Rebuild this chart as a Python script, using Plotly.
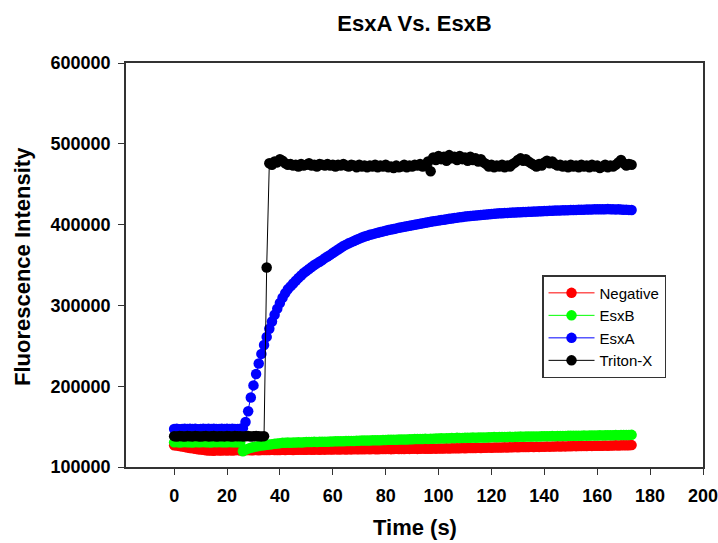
import plotly.graph_objects as go

# time in seconds (1 s sampling)
time_s = list(range(0, 174))

# fluorescence values in thousands
negative_k = [
    127.0, 126.6, 126.0, 125.4, 124.9, 124.2, 123.6, 123.1, 122.5, 122.0,
    121.6, 121.2, 120.6, 120.3, 120.5, 120.2, 120.6, 120.4, 120.3, 120.7,
    120.5, 120.8, 120.4, 120.6, 120.9, 120.5, 120.7, 120.6, 120.9, 120.6,
    120.8, 121.0, 120.7, 120.9, 121.1, 120.9, 121.0, 121.2, 120.9, 121.1,
    121.1, 121.3, 121.0, 121.2, 121.4, 121.1, 121.3, 121.2, 121.5, 121.3,
    121.4, 121.6, 121.3, 121.5, 121.7, 121.4, 121.6, 121.5, 121.8, 121.6,
    121.7, 121.9, 121.6, 121.8, 122.0, 121.7, 121.9, 121.8, 122.1, 121.9,
    122.0, 122.1, 121.9, 122.2, 122.0, 122.3, 122.1, 122.0, 122.3, 122.2,
    122.2, 122.4, 122.1, 122.3, 122.5, 122.2, 122.4, 122.3, 122.6, 122.4,
    122.5, 122.7, 122.4, 122.6, 122.8, 122.5, 122.7, 122.6, 122.9, 122.7,
    122.8, 123.0, 122.8, 123.1, 123.0, 123.2, 123.1, 123.3, 123.2, 123.4,
    123.3, 123.5, 123.4, 123.6, 123.5, 123.8, 123.6, 123.9, 123.7, 124.0,
    123.9, 124.1, 124.0, 124.2, 124.1, 124.4, 124.2, 124.5, 124.3, 124.6,
    124.5, 124.7, 124.6, 124.8, 124.7, 125.0, 124.8, 125.1, 124.9, 125.2,
    125.1, 125.3, 125.2, 125.4, 125.3, 125.6, 125.4, 125.7, 125.5, 125.8,
    125.7, 125.9, 125.8, 126.0, 125.9, 126.1, 126.0, 126.2, 126.1, 126.3,
    126.2, 126.4, 126.3, 126.5, 126.4, 126.6, 126.5, 126.8, 126.6, 126.9,
    126.8, 127.0, 126.9, 127.1,
]

esxb_k = [
    130.5, 130.8, 130.4, 130.6, 130.9, 130.5, 130.7, 130.4, 130.8, 130.6,
    130.5, 130.9, 130.6, 130.7, 130.4, 130.8, 130.6, 130.9, 130.5, 130.7,
    130.6, 130.8, 130.5, 130.7, 130.6, 130.4,
    119.5, 121.3, 122.7, 123.8, 124.7, 125.4, 126.0, 126.5, 127.0, 127.4,
    127.9, 128.3, 128.7, 129.1, 129.5, 129.9,
    130.0, 130.2, 130.1, 130.4, 130.3, 130.5, 130.4, 130.7,
    130.8, 131.0, 130.9, 131.1, 131.0, 131.3, 131.2, 131.4, 131.3, 131.6,
    131.7, 131.9, 131.8, 132.0, 131.9, 132.2, 132.1, 132.3, 132.2, 132.5,
    132.6, 132.8, 132.7, 132.9, 132.8, 133.1, 133.0, 133.2, 133.1, 133.4,
    133.5, 133.7, 133.6, 133.8, 133.7, 134.0, 133.9, 134.1, 134.0, 134.3,
    134.4, 134.6, 134.5, 134.7, 134.6, 134.9, 134.8, 135.0, 134.9, 135.2,
    135.3, 135.5, 135.4, 135.6, 135.5, 135.8, 135.7, 136.2, 135.8, 136.0,
    136.1, 136.3, 136.2, 136.4, 136.3, 136.5, 136.4, 136.6, 136.5, 136.7,
    136.8, 137.0, 136.9, 137.1, 137.0, 137.2, 137.1, 137.3, 137.2, 137.4,
    137.5, 137.6, 137.5, 137.7, 137.6, 137.8, 137.7, 137.9, 137.8, 138.0,
    138.0, 138.2, 138.1, 138.3, 138.2, 138.4, 138.3, 138.5, 138.4, 138.6,
    138.6, 138.7, 138.6, 138.8, 138.7, 138.9, 138.8, 139.0, 138.9, 139.1,
    139.0, 139.2, 139.1, 139.3, 139.2, 139.4, 139.3, 139.5, 139.4, 139.6,
    139.5, 139.7, 139.6, 139.8,
]

esxa_k = [
    147.0, 147.3, 146.8, 147.1, 147.4, 146.9, 147.2, 147.0, 147.3, 146.8,
    147.1, 147.4, 146.9, 147.2, 147.0, 147.3, 146.9, 147.1, 147.4, 147.0,
    147.2, 146.9, 147.3, 147.1, 147.0, 147.4,
    148.0, 155.7, 169.0, 186.0, 201.0, 215.0, 228.0, 240.0, 251.0, 261.0,
    271.0, 280.0, 288.5, 296.0, 303.0, 309.5, 315.0, 320.0, 323.5, 327.0,
    330.5, 334.0, 337.0, 340.0, 342.5, 345.0, 347.5, 350.0, 352.0, 354.0,
    356.0, 358.5, 360.5, 362.5, 364.8, 367.0, 369.2, 371.3, 373.5, 375.2,
    376.8, 378.3, 379.8, 381.2, 382.6, 384.0, 385.2, 386.3, 387.3, 388.2,
    389.1, 390.0, 390.8, 391.6, 392.4, 393.2, 393.9, 394.6, 395.3, 396.0,
    396.6, 397.3, 397.9, 398.6, 399.2, 399.8, 400.5, 401.1, 401.7, 402.3,
    402.9, 403.5, 404.1, 404.6, 405.1, 405.6, 406.1, 406.6, 407.1, 407.6,
    408.1, 408.6, 409.1, 409.5, 409.9, 410.3, 410.6, 411.0, 411.3, 411.6,
    411.9, 412.2, 412.5, 412.8, 413.1, 413.4, 413.7, 413.9, 414.1, 414.3,
    414.5, 414.7, 414.9, 415.0, 415.2, 415.3, 415.5, 415.6, 415.8, 415.9,
    416.1, 416.2, 416.4, 416.5, 416.7, 416.8, 417.0, 417.1, 417.3, 417.4,
    417.6, 417.7, 417.8, 417.9, 418.0, 418.1, 418.2, 418.3, 418.4, 418.5,
    418.6, 418.7, 418.8, 418.9, 419.0, 419.0, 419.1, 419.0, 419.2, 419.1,
    419.0, 418.8, 418.9, 418.6, 418.4, 418.5, 418.2, 418.0, 418.1,
]

tritonx_k = [
    138.2, 137.8, 138.4, 138.0, 137.7, 138.3, 138.1, 137.9, 138.5, 138.0,
    137.8, 138.2, 138.4, 137.9, 138.1, 138.3, 137.7, 138.0, 138.2, 137.9,
    138.4, 138.1, 137.8, 138.3, 138.0, 138.2, 137.9, 138.1, 138.4, 137.8,
    138.0, 138.3, 138.1, 137.9, 138.2,
    347.0,
    476, 474, 478, 477, 481, 479, 476, 474, 475, 473,
    474, 472, 475, 473, 474, 476, 473, 474, 472, 475,
    474, 473, 475, 473, 474, 472, 474, 473, 475, 473,
    472, 474, 473, 471, 474, 472, 473, 471, 473, 472,
    474, 471, 473, 472, 474, 471, 472, 470, 473, 471,
    472, 474, 471, 473, 472, 474, 473, 475, 472, 474,
    478, 466, 483, 480, 485, 481, 484, 479, 486, 482,
    484, 480, 485, 481, 483, 479, 484, 480, 482, 478,
    481, 477, 475, 472, 474, 471, 473, 472, 474, 471,
    473, 472, 475, 477, 480, 482, 479, 481, 478, 476,
    474, 472, 475, 473, 477, 479, 476, 478, 475, 473,
    474, 472, 473, 471, 474, 472, 473, 471, 474, 472,
    473, 471, 474, 472, 473, 470, 472, 474, 471, 473,
    472, 474, 477, 480, 476, 473, 475, 474,
]

series_names = ["Negative", "EsxB", "EsxA", "Triton-X"]
series_colors = ["#FF0000", "#00FF00", "#0000FF", "#000000"]
series_values = [negative_k, esxb_k, esxa_k, tritonx_k]

x_ticks = [0, 20, 40, 60, 80, 100, 120, 140, 160, 180, 200]
y_ticks = [100000, 200000, 300000, 400000, 500000, 600000]

FONT = "Liberation Sans, Arial, Helvetica, sans-serif"

fig = go.Figure()
for name, color, vals in zip(series_names, series_colors, series_values):
    fig.add_trace(go.Scatter(
        x=time_s[:len(vals)],
        y=[v * 1000 for v in vals],
        mode="lines+markers",
        name=name,
        line=dict(color=color, width=1),
        marker=dict(color=color, size=10.5, line=dict(width=0)),
    ))

axis_common = dict(
    showline=True, linecolor="#333333", linewidth=1.5, mirror=True,
    ticks="outside", ticklen=6, tickwidth=1.2, tickcolor="#333333",
    showgrid=False, zeroline=False, automargin=False,
    ticklabeloverflow="allow",
    tickfont=dict(family=FONT, size=18, color="#000000", weight="bold"),
)

fig.update_layout(
    width=718, height=543,
    margin=dict(l=126, r=15, t=63, b=76, autoexpand=False),
    paper_bgcolor="white", plot_bgcolor="white",
    title=dict(text="<b>EsxA Vs. EsxB</b>", x=0.5, xref="paper",
               y=1 - 23 / 543, yref="container", yanchor="middle",
               font=dict(family=FONT, size=22, color="#000000")),
    xaxis=dict(range=[-18.2, 200], tickvals=x_ticks, ticklabelstandoff=6, **axis_common),
    yaxis=dict(range=[100000, 600000], tickvals=y_ticks, tickformat="d",
               ticklabelstandoff=4, **axis_common),
    showlegend=True,
    legend=dict(x=0.721, y=0.475, xanchor="left", yanchor="top",
                bgcolor="white", bordercolor="#333333", borderwidth=1.5,
                font=dict(family=FONT, size=15, color="#000000"),
                tracegroupgap=0, itemwidth=46),
    annotations=[
        dict(text="<b>Fluorescence Intensity</b>", textangle=-90,
             x=(22 - 126) / 577, y=0.495, xref="paper", yref="paper",
             showarrow=False, xanchor="center", yanchor="middle",
             font=dict(family=FONT, size=22, color="#000000")),
        dict(text="<b>Time (s)</b>",
             x=0.5, y=(467 - 527) / 404, xref="paper", yref="paper",
             showarrow=False, xanchor="center", yanchor="middle",
             font=dict(family=FONT, size=22, color="#000000")),
    ],
)

fig.write_html(
    "out.html",
    config={"displayModeBar": False},
    post_script="document.body.style.margin='0';document.body.style.overflow='hidden';",
)
